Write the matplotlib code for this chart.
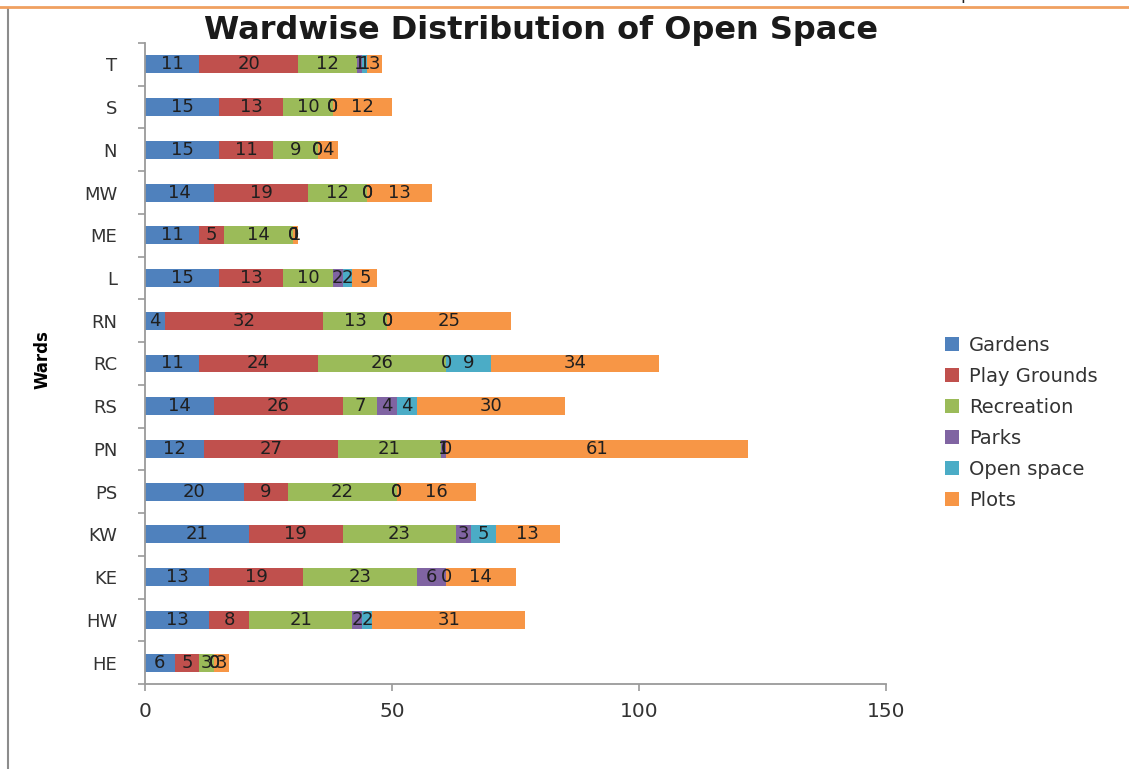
#Wardwise distribution of open space - stacked horizontal bars
import matplotlib.pyplot as plt
from matplotlib.lines import Line2D
import numpy as np

#Wards listed bottom to top, as drawn on the axis
wards = ["HE", "HW", "KE", "KW", "PS", "PN", "RS", "RC", "RN", "L", "ME", "MW", "N", "S", "T"]

gardens      = [6, 13, 13, 21, 20, 12, 14, 11, 4, 15, 11, 14, 15, 15, 11]
play_grounds = [5, 8, 19, 19, 9, 27, 26, 24, 32, 13, 5, 19, 11, 13, 20]
recreation   = [3, 21, 23, 23, 22, 21, 7, 26, 13, 10, 14, 12, 9, 10, 12]
parks        = [0, 2, 6, 3, 0, 1, 4, 0, 0, 2, 0, 0, 0, 0, 1]
open_space   = [0, 2, 0, 5, 0, 0, 4, 9, 0, 2, 0, 0, 0, 0, 1]
plots        = [3, 31, 14, 13, 16, 61, 30, 34, 25, 5, 1, 13, 4, 12, 3]

series = [("Gardens", gardens, "#4F81BD"),
          ("Play Grounds", play_grounds, "#C0504D"),
          ("Recreation", recreation, "#9BBB59"),
          ("Parks", parks, "#8064A2"),
          ("Open space", open_space, "#4BACC6"),
          ("Plots", plots, "#F79646")]

fig = plt.figure(figsize=(11.29, 7.69), dpi=100)
ax = fig.add_axes([145/1129, 1 - 684/769, (886 - 145)/1129, (684 - 43)/769])

pos = np.arange(len(wards))
left = np.zeros(len(wards))
for name, vals, col in series:
    vals = np.array(vals, dtype=float)
    ax.barh(pos, vals, left=left, height=0.42, color=col, label=name)
    #value labels in the middle of each piece (zeros too, like the original)
    for i in range(len(wards)):
        ax.text(left[i] + vals[i] / 2, pos[i], "%d" % vals[i], ha="center", va="center",
                fontsize=13, color="#1f1f1f")
    left += vals

ax.set_xlim(0, 150)
ax.set_ylim(-0.5, len(wards) - 0.5)
ax.set_xticks([0, 50, 100, 150])
ax.set_yticks(pos)
ax.set_yticklabels(wards)
ax.set_yticks(np.arange(-0.5, len(wards), 1), minor=True)
ax.tick_params(axis="y", which="major", length=0, pad=20, labelsize=13, labelcolor="#333333")
ax.tick_params(axis="y", which="minor", length=5, color="#9a9a9a", width=1.2)
ax.tick_params(axis="x", length=5, color="#9a9a9a", width=1.2, pad=8, labelsize=14.5, labelcolor="#333333")
for s in ["top", "right"]:
    ax.spines[s].set_visible(False)
for s in ["left", "bottom"]:
    ax.spines[s].set_color("#9a9a9a")
    ax.spines[s].set_linewidth(1.3)

fig.text(541/1129, 1 - 30/769, "Wardwise Distribution of Open Space", ha="center", va="center",
         fontsize=23, fontweight="bold", color="#1a1a1a")
fig.text(42/1129, 1 - 360/769, "Wards", rotation=90, ha="center", va="center",
         fontsize=12, fontweight="bold", family=["Liberation Sans Narrow", "DejaVu Sans"])

leg = ax.legend(loc="upper left", bbox_to_anchor=(928/1129, 1 - 318/769), bbox_transform=fig.transFigure,
                frameon=False, fontsize=14, handlelength=0.7, handleheight=0.7,
                labelspacing=0.62, handletextpad=0.5)
for t in leg.get_texts():
    t.set_color("#333333")

#page border bits from the screenshot
fig.add_artist(Line2D([8/1129, 8/1129], [0, 1 - 9/769], color="#8c8c8c", lw=1.5))
fig.add_artist(Line2D([0, 1], [1 - 7/769, 1 - 7/769], color="#f0a060", lw=2))
fig.text(940/1129, 1 - 3/769, "Impact Factor  \u2013  2", ha="left", va="bottom", fontsize=12, color="#222222")

plt.savefig("out.png", dpi=100)
